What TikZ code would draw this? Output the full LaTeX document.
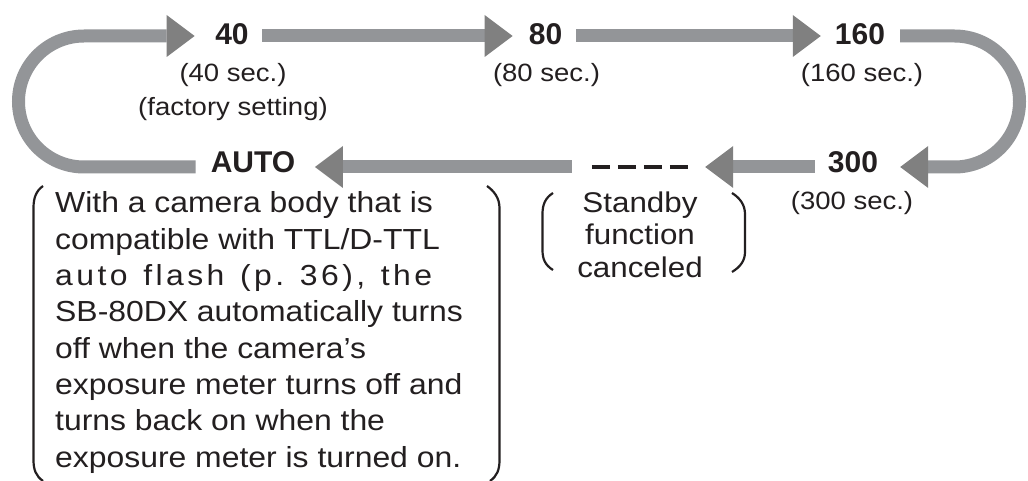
\documentclass[tikz,border=0pt]{standalone}
\usepackage{fontspec}
\setmainfont{Liberation Sans}
\newfontfamily\regf[FakeStretch=1.1]{Liberation Sans}
\usetikzlibrary{arrows.meta}
\definecolor{ink}{HTML}{231F20}
\definecolor{shaftgray}{HTML}{939598}
\definecolor{headgray}{HTML}{808080}
\tikzset{
 lab/.style={inner sep=0pt, text=ink, font=\fontsize{30}{36}\selectfont\bfseries, text height=22pt},
 toplab/.style={lab, text depth=4pt},
 lowlab/.style={lab, text depth=10pt},
 sub/.style={inner sep=0pt, text=ink, font=\regf\fontsize{25}{34}\selectfont, align=center},
 body/.style={inner sep=0pt, text=ink, font=\regf\fontsize{29}{36.3}\selectfont, align=left},
 stby/.style={inner sep=0pt, text=ink, font=\regf\fontsize{28.5}{32.5}\selectfont, align=center},
 flow/.style={draw=shaftgray, line width=13pt, -{Triangle[width=42pt,length=28pt,color=headgray,line width=0pt]}},
 brace/.style={draw=ink, line width=2.2pt},
 dashline/.style={draw=ink, line width=3.5pt, dash pattern=on 18pt off 8pt},
}
\begin{document}
\begin{tikzpicture}[x=1pt,y=-1pt]
\useasboundingbox (0,0) rectangle (1028,481);
\fill[white] (0,0) rectangle (1028,481);
% main labels
\node[toplab] (n40) at (232,36) {40};
\node[toplab] (n80) at (545.5,36) {80};
\node[toplab] (n160) at (860,36) {160};
\node[lowlab] (n300) at (853,167) {300};
\node[lowlab] (nauto) at (253,167) {AUTO};
\node[inner sep=0pt, minimum width=96pt, minimum height=4pt] (nstb) at (640,167) {};
\draw[dashline] (nstb.west) -- (nstb.east);
% sub labels (anchor=base is the baseline of the last line)
\node[sub, anchor=base] (s40) at (233,116) {(40 sec.)\\(factory setting)};
\node[sub, anchor=base] (s80) at (546.5,82) {(80 sec.)};
\node[sub, anchor=base] (s160) at (862,82) {(160 sec.)};
\node[sub, anchor=base] (s300) at (852,210) {(300 sec.)};
\node[stby, anchor=base] (stbtxt) at (640,277) {Standby\\function\\canceled};
\node[body, anchor=base west] (desc) at (55,467) {With a camera body that is\\
compatible with TTL/D-TTL\\
\makebox[377pt][s]{a\hfil u\hfil t\hfil o\hfil\ \hfil f\hfil l\hfil a\hfil s\hfil h\hfil\ \hfil (\hfil p\hfil .\hfil\ \hfil 3\hfil 6\hfil )\hfil ,\hfil\ \hfil t\hfil h\hfil e}\\
SB-80DX automatically turns\\
off when the camera’s\\
exposure meter turns off and\\
turns back on when the\\
exposure meter is turned on.};
% connectors
\draw[flow] ([xshift=-15pt]nauto.west) -- (84,167) .. controls (47.8,167) and (18.5,137.7) .. (18.5,101.5) .. controls (18.5,65.3) and (47.8,36) .. (84,36) -- ([xshift=-20.5pt]n40.west);
\draw[flow, shorten <=13.5pt, shorten >=16pt] (n40.east) -- (n80.west);
\draw[flow, shorten <=14pt, shorten >=14pt] (n80.east) -- (n160.west);
\draw[flow] ([xshift=15pt]n160.east) -- (954.5,36) .. controls (990.4,36) and (1019.5,65.1) .. (1019.5,101.5) .. controls (1019.5,137.9) and (990.4,167) .. (954.5,167) -- ([xshift=22pt]n300.east);
\draw[flow, shorten <=13pt, shorten >=17pt] (n300.west) -- (nstb.east);
\draw[flow, shorten <=20pt, shorten >=19.5pt] (nstb.west) -- (nauto.east);
% brackets
\draw[brace] (43,186) .. controls (36,191) and (33.5,198) .. (33.5,208) -- (33.5,460) .. controls (33.5,470) and (36,476) .. (43,481);
\draw[brace] (487,186) .. controls (494,191) and (499.5,198) .. (499.5,208) -- (499.5,460) .. controls (499.5,470) and (497,476) .. (490,481);
\draw[brace] (553,193) .. controls (545,198) and (542.5,205) .. (542.5,214) -- (542.5,250) .. controls (542.5,259) and (545,265) .. (553,270);
\draw[brace] (732,193) .. controls (740,198) and (745,205) .. (745,214) -- (745,252) .. controls (745,261) and (740,267) .. (732,272);
\end{tikzpicture}
\end{document}
